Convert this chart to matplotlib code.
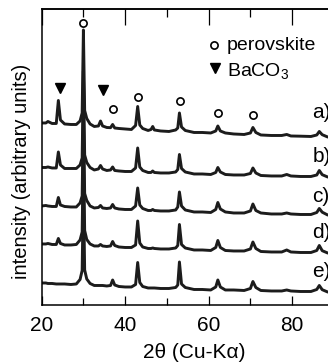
import numpy as np
import matplotlib
matplotlib.use("Agg")
import matplotlib.pyplot as plt

plt.rcParams['font.family'] = ['Liberation Sans', 'DejaVu Sans']
plt.rcParams['mathtext.fontset'] = 'custom'
plt.rcParams['mathtext.rm'] = 'Liberation Sans'
plt.rcParams['mathtext.default'] = 'regular'

# ---- data (2theta grid shared by all patterns) ----
two_theta = [20.0, 21.0, 21.5, 22.5, 23.5, 24.0, 24.5, 25.5, 27.0, 28.3,
             29.2, 29.7, 30.0, 30.3, 30.8, 31.6, 32.6, 33.6, 34.1, 34.6,
             35.6, 36.5, 37.0, 37.5, 38.5, 40.0, 41.5, 42.5, 43.0, 43.5,
             44.2, 45.5, 46.2, 46.6, 47.0, 48.5, 50.5, 52.1, 52.6, 53.0,
             53.5, 54.4, 56.5, 58.5, 60.5, 61.7, 62.2, 62.8, 64.0, 66.0,
             68.5, 70.0, 70.6, 71.3, 72.5, 75.0, 77.5, 78.7, 79.7, 82.0,
             84.5, 85.9, 86.5, 87.2, 88.5, 90.0]

int_a = [14, 14, 15.5, 13.5, 13.5, 36.5, 17, 13, 12.5, 12.5,
         16, 24, 107, 26.5, 18.5, 13, 10.5, 11, 16, 11,
         9.5, 9.3, 12.5, 9, 8.5, 8, 7.5, 11.5, 30.5, 12,
         8.5, 6.5, 7.5, 10.5, 7, 6, 5.5, 7, 9, 24,
         10, 6.5, 4.5, 4.5, 4, 6, 11, 6, 4, 3,
         2.5, 4, 9.5, 4.5, 2, 1.5, 1.5, 2.5, 1, 0.8,
         0.5, 2, 5.5, 2.3, 0, 0]
int_b = [9.5, 9.5, 10, 9, 9, 25, 12, 8.5, 8.5, 8.5,
         12, 19, 106, 22, 14.5, 9.5, 7, 8, 11.5, 8,
         6.5, 7, 10, 6.5, 6, 5.5, 5.5, 9, 29, 10,
         6.5, 4.5, 4.5, 6, 4.5, 4, 4, 5, 7.5, 22.5,
         8.5, 5, 3, 3, 2.5, 4.5, 9.5, 5, 2.5, 2,
         2, 3.5, 9, 4, 1.5, 1, 1, 2.5, 1, 0.5,
         0.5, 2, 6.5, 2.3, 0, 0]
int_c = [9, 9.5, 9, 8.5, 8.5, 17.5, 10, 8.5, 8, 8,
         12, 19, 108, 21.5, 14.5, 9, 7, 7.5, 9.5, 7,
         6.5, 7, 10.5, 7, 6, 5.5, 5.5, 9, 27, 10,
         6.5, 4.5, 4.5, 5.5, 4.5, 4, 4, 5, 8, 23,
         9, 5, 3, 3, 2.5, 5.5, 12.5, 6, 3, 2,
         2, 4, 11, 4.5, 2, 1, 1, 2, 1, 0.5,
         0.5, 2.5, 6.5, 2.8, 0, 0]
int_d = [9, 9, 9.5, 8.5, 8.5, 14.5, 9.5, 8, 8, 8.5,
         13, 21, 110, 22.5, 13.5, 9, 7, 7, 8.5, 7,
         6.5, 7, 11.5, 7.5, 6, 5.5, 5.5, 8, 32, 10,
         6, 4.5, 4.5, 5, 4.5, 4, 4, 5, 7.5, 28.5,
         8.5, 5, 3, 3, 2.5, 5.5, 12.5, 5.5, 2.5, 2,
         2, 4, 11, 4.5, 1.5, 1, 1, 3, 1, 0.5,
         0.5, 2.5, 7.5, 2.3, 0, 0]
int_e = [9, 9, 8.5, 8.5, 8, 8, 8, 8, 7.5, 8,
         12.5, 21.5, 107.5, 22, 13, 8.5, 6.5, 6.5, 6.5, 6.5,
         6, 6.5, 12, 7, 5.5, 5, 5, 7.5, 29.5, 9.5,
         5.5, 4, 4, 4, 4, 3.5, 3.5, 4.5, 7, 30,
         8, 4.5, 2.5, 2.5, 2, 5, 12, 5, 2, 2,
         1.5, 3.5, 10.5, 4.5, 1.5, 1, 1, 2, 1, 0.5,
         0.5, 2.5, 6.5, 2.3, 0, 0]

patterns = [int_a, int_b, int_c, int_d, int_e]
offsets = [168, 128, 90, 52, 13]
pattern_labels = ['a)', 'b)', 'c)', 'd)', 'e)']
label_y = [192, 148, 108, 72, 33]

perov_x = [30.0, 37.0, 43.0, 53.2, 62.2, 70.6]
perov_y = [282, 196, 208, 204, 192, 190]
baco3_x = [24.4, 34.7]
baco3_y = [217, 215]

# ---- figure ----
fig = plt.figure(figsize=(3.28, 3.62), dpi=100)
ax = fig.add_axes([0.127, 0.1575, 0.891, 0.8177])

for inten, off in zip(patterns, offsets):
    ax.plot(two_theta, np.asarray(inten) + off, color='#1c1c1c', lw=2.1)

ax.plot(perov_x, perov_y, 'o', ls='none', mfc='white', mec='black', ms=5.2, mew=1.2)
ax.plot(baco3_x, baco3_y, 'v', ls='none', color='black', ms=7)

for lab, ly in zip(pattern_labels, label_y):
    ax.text(84.9, ly, lab, fontsize=15, ha='left', va='center')

# manual legend
ax.plot([61.3], [260], 'o', mfc='white', mec='black', ms=5.2, mew=1.2)
ax.text(64.3, 255, 'perovskite', fontsize=14, ha='left', va='baseline')
ax.plot([61.6], [237], 'v', color='black', ms=7)
ax.text(64.4, 229, 'BaCO$_3$', fontsize=14, ha='left', va='baseline')

ax.set_xlim(20, 90)
ax.set_ylim(0, 296)
ax.set_yticks([])
ax.set_xticks([20, 40, 60, 80])
ax.set_xticks([30, 50, 70], minor=True)
ax.tick_params(axis='x', which='major', direction='in', length=6.5, width=0.9,
               labelsize=15, pad=8)
ax.tick_params(axis='x', which='minor', direction='in', length=5.4, width=0.9)
for s in ax.spines.values():
    s.set_linewidth(1.1)

sec = ax.secondary_xaxis('top')
sec.set_xticks([20, 40, 60, 80], labels=[])
sec.set_xticks([30, 50, 70], minor=True)
sec.tick_params(axis='x', which='major', direction='in', length=11.5, width=0.9)
sec.tick_params(axis='x', which='minor', direction='in', length=5.8, width=0.9)
sec.spines['top'].set_linewidth(1.1)

fig.text(22 / 328, 1 - 171 / 362, 'intensity (arbitrary units)', rotation=90,
         ha='center', va='center', fontsize=14.5)
fig.text(194 / 328, 1 - 353 / 362, '2θ (Cu-Kα)', ha='center', va='center', fontsize=15)

fig.savefig('out.png', dpi=100)
